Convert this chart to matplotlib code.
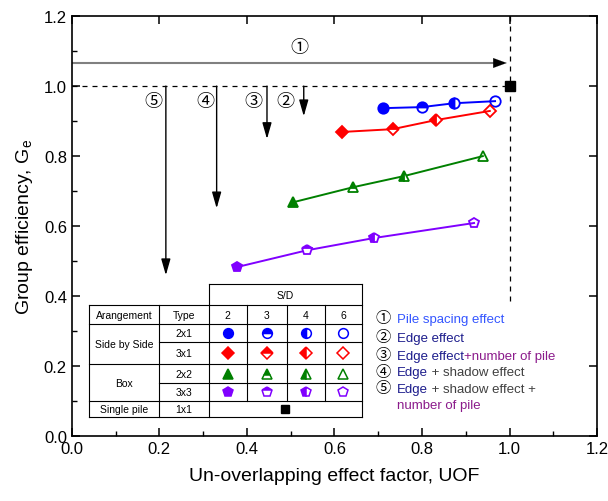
import matplotlib
matplotlib.use("Agg")
import matplotlib.pyplot as plt
from matplotlib import transforms
from matplotlib.ticker import MultipleLocator

plt.rcParams['font.family'] = ['Liberation Sans', 'DejaVu Sans']
plt.rcParams['mathtext.default'] = 'regular'

# data
sd_values = ['2', '3', '4', '6']
uof_2x1 = [0.711, 0.800, 0.873, 0.967]
ge_2x1 = [0.937, 0.940, 0.951, 0.957]
uof_3x1 = [0.617, 0.733, 0.832, 0.955]
ge_3x1 = [0.869, 0.877, 0.903, 0.929]
uof_2x2 = [0.505, 0.642, 0.759, 0.939]
ge_2x2 = [0.668, 0.711, 0.743, 0.800]
uof_3x3 = [0.377, 0.537, 0.690, 0.919]
ge_3x3 = [0.483, 0.531, 0.566, 0.609]
single_uof, single_ge = 1.0, 1.0

fill_styles = ['full', 'top', 'left', 'none']
series = [
    ('2x1', uof_2x1, ge_2x1, '#0000ff', 'o'),
    ('3x1', uof_3x1, ge_3x1, '#ff0000', 'D'),
    ('2x2', uof_2x2, ge_2x2, '#008000', '^'),
    ('3x3', uof_3x3, ge_3x3, '#8000ff', 'p'),
]

# arrows: (x, y end) from Ge = 1.0
effect_x = [0.53, 0.446, 0.331, 0.215]
effect_end = [0.914, 0.849, 0.651, 0.46]
effect_lbl = ['②', '③', '④', '⑤']
effect_lbl_x = [0.489, 0.416, 0.306, 0.187]

circ_font = ['Noto Sans CJK SC', 'DejaVu Sans']

fig, ax = plt.subplots(figsize=(6.08, 5.02), dpi=100)
fig.subplots_adjust(left=0.118, right=0.982, bottom=0.129, top=0.966)

ax.set_xlim(0, 1.2)
ax.set_ylim(0, 1.2)
ax.xaxis.set_major_locator(MultipleLocator(0.2))
ax.xaxis.set_minor_locator(MultipleLocator(0.1))
ax.yaxis.set_major_locator(MultipleLocator(0.2))
ax.yaxis.set_minor_locator(MultipleLocator(0.1))
ax.xaxis.set_major_formatter(matplotlib.ticker.FormatStrFormatter('%.1f'))
ax.yaxis.set_major_formatter(matplotlib.ticker.FormatStrFormatter('%.1f'))
ax.tick_params(which='major', direction='in', length=6, width=1.1, labelsize=12, top=True, right=True)
ax.tick_params(which='minor', direction='in', length=3.5, width=1.0, top=False, right=False)
for s in ax.spines.values():
    s.set_linewidth(1.2)

ax.set_xlabel('Un-overlapping effect factor, UOF', fontsize=14, labelpad=8)
ax.set_ylabel('Group efficiency, G$_e$', fontsize=14, labelpad=6)

# reference lines
ax.plot([0, 1.0], [1.0, 1.0], color='black', ls=(0, (4, 4)), lw=0.9)
ax.plot([1.0, 1.0], [1.2, 0.386], color='black', ls=(0, (4, 4)), lw=0.9)
ax.plot([single_uof], [single_ge], 's', color='black', ms=7)

# pile spacing arrow
ax.plot([0, 0.975], [1.066, 1.066], color='#808080', lw=1.5)
ax.annotate('', xy=(1.0, 1.066), xytext=(0.95, 1.066),
            arrowprops=dict(arrowstyle='-|>,head_length=0.6,head_width=0.22', color='black',
                            lw=0.1, mutation_scale=16))
ax.text(0.519, 1.111, '①', fontsize=13, ha='center', va='center', family=circ_font)

for x, yend, lbl, lx in zip(effect_x, effect_end, effect_lbl, effect_lbl_x):
    ax.annotate('', xy=(x, yend), xytext=(x, 1.0),
                arrowprops=dict(arrowstyle='-|>,head_length=0.7,head_width=0.2', color='black',
                                lw=1.0, mutation_scale=14, shrinkA=0, shrinkB=0))
    ax.text(lx, 0.957, lbl, fontsize=13, ha='center', va='center', family=circ_font)

# data
for name, xs, ys, c, m in series:
    ax.plot(xs, ys, '-', color=c, lw=1.4)
    for x, y, fs in zip(xs, ys, fill_styles):
        ax.plot(x, y, m, color=c, ms=7.5 if m != 'D' else 6.5, fillstyle=fs,
                markerfacecoloralt='white', mew=1.3)

# table
cx = [0.039, 0.199, 0.313, 0.40, 0.491, 0.578, 0.663]
ry = [0.434, 0.374, 0.32, 0.269, 0.206, 0.151, 0.10, 0.054]
lk = dict(color='black', lw=0.8)
ax.plot([cx[2], cx[6]], [ry[0], ry[0]], **lk)
ax.plot([cx[2], cx[2]], [ry[0], ry[7]], **lk)
ax.plot([cx[6], cx[6]], [ry[0], ry[7]], **lk)
for i in [1, 2, 4, 6, 7]:
    ax.plot([cx[0], cx[6]], [ry[i], ry[i]], **lk)
for i in [3, 5]:
    ax.plot([cx[1], cx[6]], [ry[i], ry[i]], **lk)
ax.plot([cx[0], cx[0]], [ry[1], ry[7]], **lk)
ax.plot([cx[1], cx[1]], [ry[1], ry[7]], **lk)
for j in [3, 4, 5]:
    ax.plot([cx[j], cx[j]], [ry[1], ry[6]], **lk)

tk = dict(fontsize=7.5, ha='center', va='center')
ax.text((cx[2] + cx[6]) / 2, (ry[0] + ry[1]) / 2, 'S/D', **tk)
ax.text((cx[0] + cx[1]) / 2, (ry[1] + ry[2]) / 2, 'Arangement', **tk)
ax.text((cx[1] + cx[2]) / 2, (ry[1] + ry[2]) / 2, 'Type', **tk)
for j, sd in enumerate(sd_values):
    ax.text((cx[2 + j] + cx[3 + j]) / 2, (ry[1] + ry[2]) / 2, sd, **tk)
ax.text((cx[0] + cx[1]) / 2, (ry[2] + ry[4]) / 2, 'Side by Side', **tk)
ax.text((cx[0] + cx[1]) / 2, (ry[4] + ry[6]) / 2, 'Box', **tk)
ax.text((cx[0] + cx[1]) / 2, (ry[6] + ry[7]) / 2, 'Single pile', **tk)
ax.text((cx[1] + cx[2]) / 2, (ry[6] + ry[7]) / 2, '1x1', **tk)
for i, (name, xs, ys, c, m) in enumerate(series):
    yc = (ry[2 + i] + ry[3 + i]) / 2
    ax.text((cx[1] + cx[2]) / 2, yc, name, **tk)
    for j, fs in enumerate(fill_styles):
        ax.plot((cx[2 + j] + cx[3 + j]) / 2, yc, m, color=c, ms=7 if m != 'D' else 6,
                fillstyle=fs, markerfacecoloralt='white', mew=1.1)
ax.plot((cx[2] + cx[6]) / 2, (ry[6] + ry[7]) / 2, 's', color='black', ms=6)

# legend of effects (multi-coloured text)
navy = '#1c1c8c'
purple = '#8b1a8b'
gray = '#404040'
legend_rows = [
    ('①', [('Pile spacing effect', '#3355ff')]),
    ('②', [('Edge effect', navy)]),
    ('③', [('Edge effect', navy), ('+number of pile', purple)]),
    ('④', [('Edge', navy), (' + shadow effect', gray)]),
    ('⑤', [('Edge', navy), (' + shadow effect +', gray)]),
]
fig.canvas.draw()
renderer = fig.canvas.get_renderer()


def colour_text(x, y, parts):
    t = ax.transData
    for s, c in parts:
        txt = ax.text(x, y, s, color=c, transform=t, fontsize=9.5, va='baseline', ha='left')
        txt.draw(renderer)
        ex = txt.get_window_extent(renderer)
        t = transforms.offset_copy(txt.get_transform(), x=ex.width, units='dots')


row_y = [0.327, 0.272, 0.222, 0.174, 0.127]
for (num, parts), y in zip(legend_rows, row_y):
    ax.text(0.693, y + 0.012, num, fontsize=11, va='center', ha='left', family=circ_font)
    colour_text(0.743, y, parts)
colour_text(0.743, 0.081, [('number of pile', purple)])

fig.savefig('out.png', dpi=100)
